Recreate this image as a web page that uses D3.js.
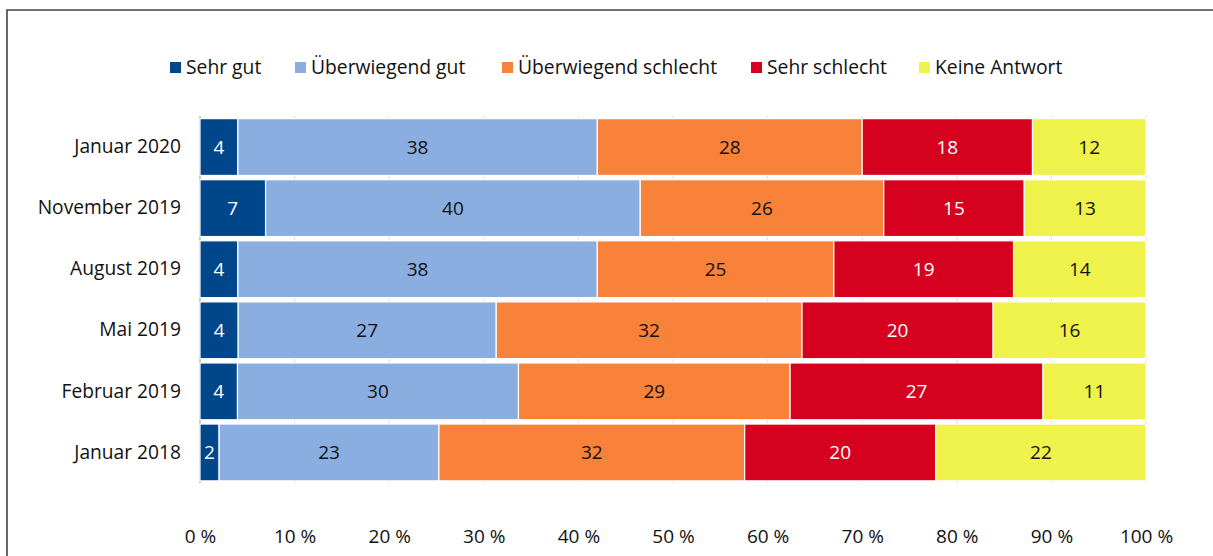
<!DOCTYPE html>
<html><head><meta charset="utf-8">
<script src="https://cdn.jsdelivr.net/npm/d3@7"></script>
<style>
html,body{margin:0;padding:0;background:#fff;}
svg{display:block;font-family:"Open Sans","Noto Sans",sans-serif;}
</style></head>
<body><svg id="chart" width="1213" height="556"></svg>
<script>
const categories = ["Januar 2020","November 2019","August 2019","Mai 2019","Februar 2019","Januar 2018"];
const seriesNames = ["Sehr gut","Überwiegend gut","Überwiegend schlecht","Sehr schlecht","Keine Antwort"];
const sehrGut = [4,7,4,4,4,2];
const ueberwiegendGut = [38,40,38,27,30,23];
const ueberwiegendSchlecht = [28,26,25,32,29,32];
const sehrSchlecht = [18,15,19,20,27,20];
const keineAntwort = [12,13,14,16,11,22];
const colors = ["#00468b","#8aaee0","#f9823a","#d6001f","#eef24a"];
const labelColors = ["#fff","#111","#111","#fff","#111"];
const tickValues = [0,10,20,30,40,50,60,70,80,90,100];

const seriesValues = [sehrGut, ueberwiegendGut, ueberwiegendSchlecht, sehrSchlecht, keineAntwort];
const rows = categories.map((c,i)=>{
  const r = {cat:c};
  seriesNames.forEach((s,j)=>{ r[s] = seriesValues[j][i]; });
  return r;
});
const stack = d3.stack().keys(seriesNames).offset(d3.stackOffsetExpand);
const stacked = stack(rows);

const svg = d3.select("#chart");
// frame
svg.append("path").attr("d","M7,560 L7,10 L1220,10").attr("fill","none").attr("stroke","#444").attr("stroke-width",1.6);

const x = d3.scaleLinear().domain([0,1]).range([200,1146]);
const y = d3.scaleBand().domain(categories).range([116.5,483]).paddingInner(0.07).paddingOuter(0.035);

// gridlines
svg.append("g").selectAll("line").data(tickValues).join("line")
  .attr("x1",d=>x(d/100)).attr("x2",d=>x(d/100))
  .attr("y1",116).attr("y2",483)
  .attr("stroke",d=>d===0?"#c8c8c8":"#e2e2e2").attr("stroke-width",d=>d===0?2:1.2);

// bars
const g = svg.append("g");
stacked.forEach((s,j)=>{
  const grp = g.append("g");
  grp.selectAll("rect").data(s).join("rect")
    .attr("x",d=>x(d[0])).attr("width",d=>x(d[1])-x(d[0]))
    .attr("y",d=>y(d.data.cat)).attr("height",y.bandwidth())
    .attr("fill",colors[j]).attr("stroke","#fff").attr("stroke-width",1.2);
  grp.selectAll("text").data(s).join("text")
    .attr("x",d=>(x(d[0])+x(d[1]))/2)
    .attr("y",d=>y(d.data.cat)+y.bandwidth()/2)
    .attr("dy","0.35em").attr("text-anchor","middle")
    .attr("font-size",19).attr("fill",labelColors[j])
    .text(d=>d.data[seriesNames[j]]);
});

// y axis labels
const yAxis = svg.append("g").attr("transform","translate(181,0)")
  .call(d3.axisLeft(y).tickSize(0).tickPadding(0));
yAxis.select(".domain").remove();
yAxis.selectAll("text").attr("font-size",19.2).attr("fill","#111").attr("font-family","'Open Sans','Noto Sans',sans-serif");

// x axis labels
const xAxis = svg.append("g").attr("transform","translate(0,529)")
  .call(d3.axisBottom(x).tickValues(tickValues.map(v=>v/100)).tickSize(0).tickPadding(0)
    .tickFormat(d=>Math.round(d*100)+" %"));
xAxis.select(".domain").remove();
xAxis.selectAll("text").attr("font-size",19).attr("fill","#111").attr("font-family","'Open Sans','Noto Sans',sans-serif");

// legend
const legendX = [170,295,502,751,919];
const leg = svg.append("g");
seriesNames.forEach((s,j)=>{
  leg.append("rect").attr("x",legendX[j]).attr("y",62).attr("width",11).attr("height",11).attr("fill",colors[j]);
  leg.append("text").attr("x",legendX[j]+16).attr("y",67).attr("dy","0.35em")
    .attr("font-size",19.3).attr("fill","#111").text(s);
});
</script></body></html>
